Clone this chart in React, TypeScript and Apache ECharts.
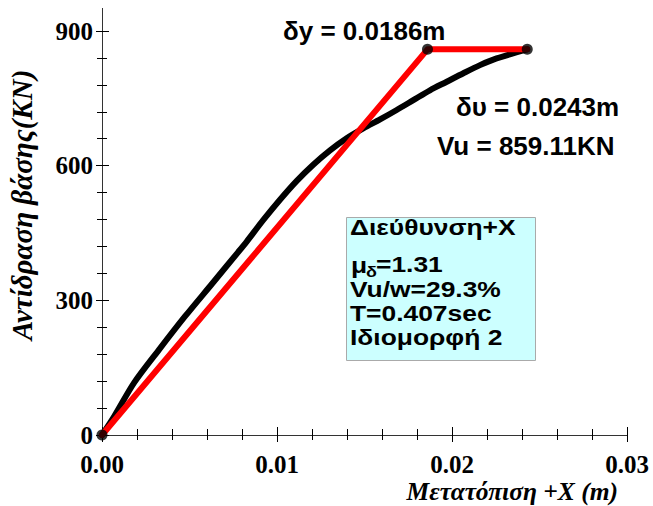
import React, { useEffect, useRef } from 'react';
import * as echarts from 'echarts';

// Pushover (capacity) curve
const pushoverX = [0, 0.00069, 0.00183, 0.00324, 0.00474, 0.00629, 0.00777, 0.00827, 0.00922, 0.01017, 0.01113, 0.01207, 0.01303, 0.01398, 0.01493, 0.01589, 0.01684, 0.01779, 0.01874, 0.0197, 0.02065, 0.0216, 0.02255, 0.0243];
const pushoverV = [0, 41, 116, 189, 264, 337, 407, 431, 479, 524, 566, 602, 634, 661, 683, 703, 724, 746, 768, 787, 806, 824, 839, 859.11];
// Bilinear idealisation
const bilinearX = [0, 0.0186, 0.0243];
const bilinearV = [0, 859.11, 859.11];
// Axes
const xMin = 0;
const xMax = 0.03;
const xStep = 0.01;
const yMin = 0;
const yMax = 900;
const yStep = 300;
const xName = 'Μετατόπιση +X (m)';
const yName = 'Αντίδραση βάσης(KN)';
// Annotations
const annotDy = 'δy = 0.0186m';
const annotDu = 'δυ = 0.0243m';
const annotVu = 'Vu = 859.11KN';
const boxTitle = 'Διεύθυνση+X';
const boxMu = 'μ';
const boxMuSub = 'δ';
const boxMuVal = '=1.31';
const boxVuw = 'Vu/w=29.3%';
const boxT = 'T=0.407sec';
const boxMode = 'Ιδιομορφή 2';

const SANS = '"Liberation Sans", Arial, sans-serif';
const SERIF = '"Liberation Serif", "Times New Roman", serif';

export default function App() {
  const ref = useRef<HTMLDivElement>(null);
  useEffect(() => {
    if (!ref.current) return;
    const chart = echarts.init(ref.current, undefined, { renderer: 'svg' });
    const grid = { left: 102, right: 26, top: 31, bottom: 71 };
    const baseX = {
      type: 'value' as const,
      min: xMin,
      max: xMax,
      interval: xStep,
      splitLine: { show: false },
    };
    const baseY = {
      type: 'value' as const,
      min: yMin,
      max: yMax,
      interval: yStep,
      splitLine: { show: false },
    };
    const boxText = (text: string, x: number, y: number, size = 22) => ({
      type: 'text',
      x,
      y,
      scaleX: 1.2,
      z: 20,
      style: {
        text,
        x: 0,
        y: 0,
        fill: '#000',
        fontFamily: SANS,
        fontWeight: 'bold',
        fontSize: size,
        align: 'left',
        verticalAlign: 'middle',
      },
    });
    const annot = (text: string, x: number, y: number) => ({
      type: 'text',
      x,
      y,
      scaleX: 1.04,
      z: 20,
      style: {
        text,
        x: 0,
        y: 0,
        fill: '#000',
        fontFamily: SANS,
        fontWeight: 'bold',
        fontSize: 25,
        align: 'left',
        verticalAlign: 'middle',
      },
    });
    chart.setOption({
      animation: false,
      backgroundColor: '#fff',
      grid: [{ ...grid }, { ...grid }],
      xAxis: [
        {
          ...baseX,
          gridIndex: 0,
          axisLine: { lineStyle: { color: '#333', width: 1 } },
          axisTick: { length: 7, lineStyle: { color: '#000', width: 1 } },
          minorTick: { show: true, splitNumber: 5, length: 5, lineStyle: { color: '#000', width: 1 } },
          axisLabel: {
            formatter: (v: number) => v.toFixed(2),
            fontFamily: SERIF,
            fontWeight: 'bold',
            fontSize: 25,
            color: '#000',
            margin: 17,
          },
        },
        {
          ...baseX,
          gridIndex: 1,
          axisLine: { show: false },
          axisTick: { inside: true, length: 8, lineStyle: { color: '#000', width: 1 } },
          minorTick: { show: true, splitNumber: 5, length: 6, lineStyle: { color: '#000', width: 1 } },
          axisLabel: { show: false },
        },
      ],
      yAxis: [
        {
          ...baseY,
          gridIndex: 0,
          axisLine: { show: true, lineStyle: { color: '#333', width: 1 } },
          axisTick: { show: true, length: 6, lineStyle: { color: '#000', width: 1 } },
          minorTick: { show: true, splitNumber: 5, length: 5, lineStyle: { color: '#000', width: 1 } },
          axisLabel: {
            fontFamily: SERIF,
            fontWeight: 'bold',
            fontSize: 25,
            color: '#000',
            margin: 9,
          },
        },
        {
          ...baseY,
          gridIndex: 1,
          axisLine: { show: false },
          axisTick: { show: true, inside: true, length: 7, lineStyle: { color: '#000', width: 1 } },
          minorTick: { show: true, splitNumber: 5, length: 5, lineStyle: { color: '#000', width: 1 } },
          axisLabel: { show: false },
        },
      ],
      series: [
        {
          type: 'line',
          xAxisIndex: 0,
          yAxisIndex: 0,
          data: pushoverX.map((x, i) => [x, pushoverV[i]]),
          smooth: 0.3,
          showSymbol: false,
          symbol: 'none',
          clip: false,
          lineStyle: { color: '#000', width: 6, cap: 'round', join: 'round' },
          z: 3,
        },
        {
          type: 'line',
          xAxisIndex: 0,
          yAxisIndex: 0,
          data: bilinearX.map((x, i) => [x, bilinearV[i]]),
          showSymbol: false,
          symbol: 'none',
          clip: false,
          lineStyle: { color: '#ff0000', width: 6, cap: 'round', join: 'round' },
          z: 4,
        },
        {
          type: 'scatter',
          xAxisIndex: 0,
          yAxisIndex: 0,
          data: bilinearX.map((x, i) => [x, bilinearV[i]]),
          symbol: 'circle',
          symbolSize: 11,
          itemStyle: { color: '#000' },
          clip: false,
          z: 5,
        },
      ],
      graphic: [
        {
          type: 'line',
          shape: { x1: 102.5, y1: 8, x2: 102.5, y2: 31 },
          style: { stroke: '#333', lineWidth: 1 },
          z: 1,
        },
        {
          type: 'text',
          x: 22,
          y: 205,
          rotation: Math.PI / 2,
          style: {
            text: yName,
            x: 0,
            y: 0,
            fill: '#000',
            fontFamily: SERIF,
            fontWeight: 'bold',
            fontStyle: 'italic',
            fontSize: 29,
            align: 'center',
            verticalAlign: 'middle',
          },
        },
        {
          type: 'text',
          x: 618,
          y: 491,
          style: {
            text: xName,
            x: 0,
            y: 0,
            fill: '#000',
            fontFamily: SERIF,
            fontWeight: 'bold',
            fontStyle: 'italic',
            fontSize: 25.5,
            align: 'right',
            verticalAlign: 'middle',
          },
        },
        annot(annotDy, 283, 31),
        annot(annotDu, 456, 107),
        annot(annotVu, 437, 146),
        {
          type: 'rect',
          shape: { x: 346.5, y: 217.5, width: 189, height: 143 },
          style: { fill: '#ccffff', stroke: '#aaaaaa', lineWidth: 1 },
          z: 10,
        },
        boxText(boxTitle, 350, 227),
        boxText(boxMu, 351, 265),
        boxText(boxMuSub, 366, 272, 15),
        boxText(boxMuVal, 376, 264),
        boxText(boxVuw, 350, 289),
        boxText(boxT, 350, 313),
        boxText(boxMode, 350, 337),
      ],
    });
    return () => chart.dispose();
  }, []);
  return (
    <div
      ref={ref}
      style={{ position: 'fixed', left: 0, top: 0, width: 653, height: 506, background: '#fff' }}
    />
  );
}
